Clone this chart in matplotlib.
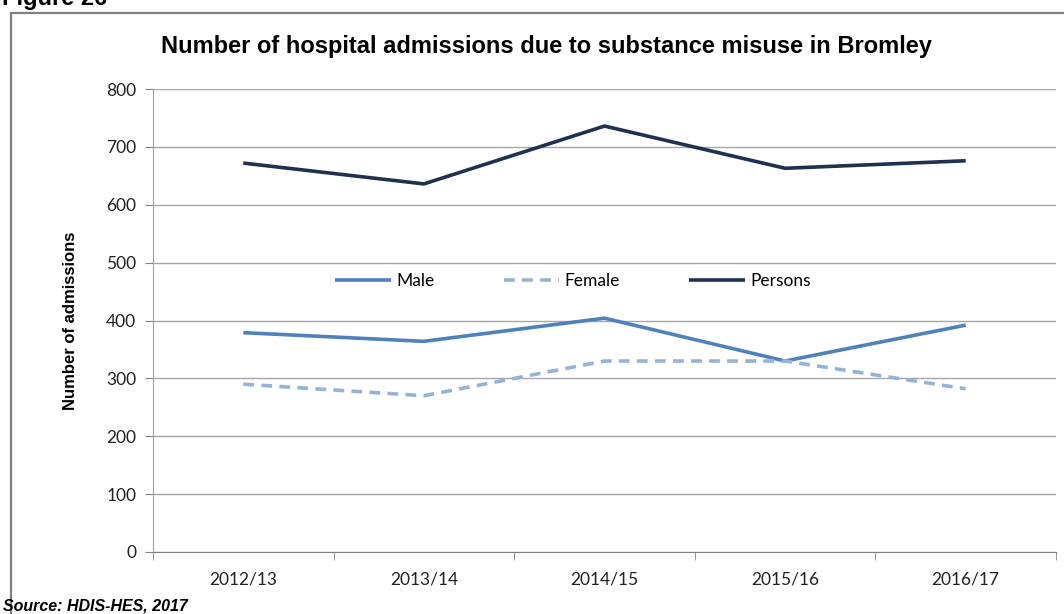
import matplotlib
matplotlib.use('Agg')
import matplotlib.pyplot as plt
from matplotlib.patches import Rectangle

years = ['2012/13', '2013/14', '2014/15', '2015/16', '2016/17']
male = [379, 364, 404, 330, 392]
female = [290, 270, 330, 330, 282]
persons = [672, 636, 736, 663, 676]

narrow = ['Liberation Sans Narrow', 'Liberation Sans', 'DejaVu Sans']
tickfont = ['Lato', 'DejaVu Sans']

fig = plt.figure(figsize=(10.64, 6.14), dpi=100)
ax = fig.add_axes([153 / 1064, 1 - 552 / 614, (1056 - 153) / 1064, (552 - 89) / 614])

x = list(range(len(years)))
ax.plot(x, male, color='#4F81BD', lw=2.6, label='Male', solid_capstyle='butt')
ax.plot(x, female, color='#95B3D7', lw=2.6, ls=(0, (3, 2)), label='Female')
ax.plot(x, persons, color='#1F3050', lw=2.6, label='Persons', solid_capstyle='butt')

ax.set_xlim(-0.5, 4.5)
ax.set_ylim(0, 800)
ax.set_yticks(range(0, 801, 100))
ax.set_xticks(x)
ax.set_xticklabels(years, family=tickfont, fontsize=12.5, color='#222222')
ax.set_xticks([i - 0.5 for i in range(len(years) + 1)], minor=True)
ax.tick_params(axis='x', which='major', length=0, pad=14)
ax.tick_params(axis='x', which='minor', length=6, color='#808080')
ax.tick_params(axis='y', length=6, color='#808080', pad=6)
for lab in ax.get_yticklabels():
    lab.set_family(tickfont)
    lab.set_fontsize(12.5)
    lab.set_color('#222222')

ax.grid(axis='y', color='#A6A6A6', lw=1)
ax.set_axisbelow(True)
for s in ['top', 'right']:
    ax.spines[s].set_visible(False)
ax.spines['left'].set_color('#A0A0A0')
ax.spines['bottom'].set_color('#808080')

ax.set_ylabel('Number of admissions', family=narrow, fontsize=12, fontweight='bold', labelpad=20)

leg = ax.legend(loc='center', bbox_to_anchor=(0.465, 0.585), ncol=3, frameon=False,
                handlelength=3.2, handletextpad=0.3, columnspacing=4.0,
                prop={'family': tickfont, 'size': 12.5})

fig.text(546 / 1064, 1 - 46 / 614, 'Number of hospital admissions due to substance misuse in Bromley',
         ha='center', va='center', family=narrow, fontsize=17, fontweight='bold')
fig.text(0.002, 1 - 5 / 614, 'Figure 26', ha='left', va='baseline', family=['Liberation Sans', 'DejaVu Sans'],
         fontsize=17, fontweight='bold')
fig.text(3 / 1064, 1 - 606 / 614, 'Source: HDIS-HES, 2017', ha='left', va='center', family=narrow,
         fontsize=11.5, fontweight='bold', style='italic')

fig.patches.append(Rectangle((11 / 1064, -0.1), 1.2, 1.1 - 13 / 614,
                             transform=fig.transFigure, fill=False, ec='#808080', lw=1.6))

fig.savefig('out.png', dpi=100)
